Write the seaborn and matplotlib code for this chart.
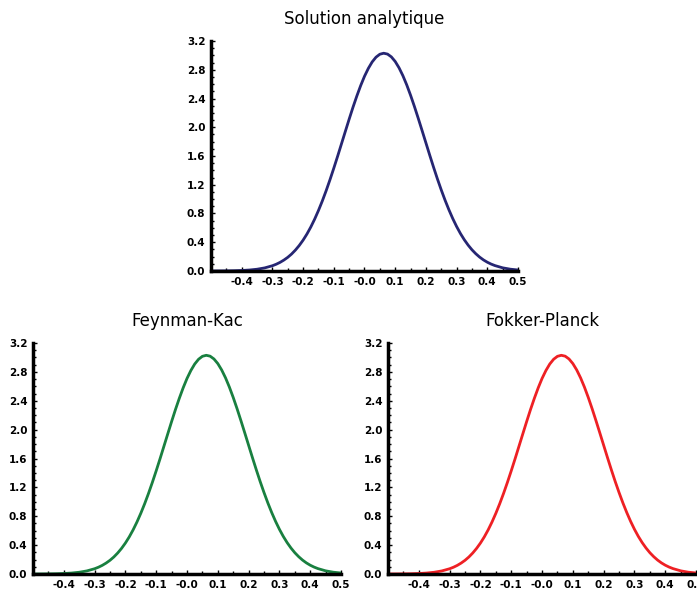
import matplotlib
matplotlib.use("Agg")
import matplotlib.pyplot as plt
import pandas as pd
import seaborn as sns
from matplotlib.ticker import MultipleLocator, FixedLocator

sns.set_style("ticks")
plt.rcParams['font.family'] = ['DejaVu Sans']
plt.rcParams['text.color'] = 'black'
plt.rcParams['xtick.color'] = 'black'
plt.rcParams['ytick.color'] = 'black'

# density (same shape in the three panels)
x_vals = [-0.5, -0.475, -0.45, -0.425, -0.4, -0.375, -0.35, -0.325,
          -0.3, -0.2875, -0.275, -0.2625, -0.25, -0.2375, -0.225, -0.2125,
          -0.2, -0.1875, -0.175, -0.1625, -0.15, -0.1375, -0.125, -0.1125,
          -0.1, -0.0875, -0.075, -0.0625, -0.05, -0.0375, -0.025, -0.0125,
          0.0, 0.0125, 0.025, 0.0375, 0.05, 0.0625, 0.075, 0.0875,
          0.1, 0.1125, 0.125, 0.1375, 0.15, 0.1625, 0.175, 0.1875,
          0.2, 0.2125, 0.225, 0.2375, 0.25, 0.2625, 0.275, 0.2875,
          0.3, 0.3125, 0.325, 0.3375, 0.35, 0.3625, 0.375, 0.3875,
          0.4, 0.4125, 0.425, 0.45, 0.475, 0.5]
analytique = [0.0004, 0.0008, 0.0018, 0.0036, 0.0071, 0.0134, 0.0244, 0.043,
              0.073, 0.094, 0.120, 0.152, 0.190, 0.236, 0.291, 0.355,
              0.429, 0.514, 0.611, 0.720, 0.841, 0.973, 1.116, 1.269,
              1.430, 1.597, 1.769, 1.941, 2.112, 2.278, 2.434, 2.579,
              2.709, 2.819, 2.909, 2.975, 3.016, 3.030, 3.018, 2.979,
              2.915, 2.827, 2.718, 2.590, 2.446, 2.290, 2.125, 1.955,
              1.783, 1.611, 1.443, 1.281, 1.128, 0.984, 0.851, 0.729,
              0.619, 0.521, 0.435, 0.360, 0.295, 0.240, 0.193, 0.154,
              0.122, 0.096, 0.075, 0.044, 0.025, 0.014]
feynman_kac = list(analytique)
fokker_planck = list(analytique)

titles = ["Solution analytique", "Feynman-Kac", "Fokker-Planck"]
colors = ["#262673", "#198040", "#ee2024"]
series = [analytique, feynman_kac, fokker_planck]

x_ticks = [-0.4, -0.3, -0.2, -0.1, 0.0, 0.1, 0.2, 0.3, 0.4, 0.5]
x_tick_labels = ["-0.4", "-0.3", "-0.2", "-0.1", "-0.0", "0.1", "0.2", "0.3", "0.4", "0.5"]
y_ticks = [0.0, 0.4, 0.8, 1.2, 1.6, 2.0, 2.4, 2.8, 3.2]

fig = plt.figure(figsize=(6.97, 5.90), dpi=100)
positions = [
    [0.3027, 0.5407, 0.4405, 0.3898],
    [0.0473, 0.0271, 0.4420, 0.3915],
    [0.5567, 0.0271, 0.4420, 0.3915],
]

for pos, title, color, vals in zip(positions, titles, colors, series):
    ax = fig.add_axes(pos)
    df = pd.DataFrame({"x": x_vals, "y": vals})
    sns.lineplot(data=df, x="x", y="y", ax=ax, color=color, linewidth=2.0)
    ax.set_xlim(-0.5, 0.5)
    ax.set_ylim(0.0, 3.2)
    ax.set_xlabel("")
    ax.set_ylabel("")
    ax.set_title(title, fontsize=12, pad=12, color="black")
    ax.xaxis.set_major_locator(FixedLocator(x_ticks))
    ax.set_xticklabels(x_tick_labels)
    ax.xaxis.set_minor_locator(MultipleLocator(0.05))
    ax.set_yticks(y_ticks)
    ax.set_yticklabels([f"{v:.1f}" for v in y_ticks])
    ax.yaxis.set_minor_locator(MultipleLocator(0.1))
    ax.tick_params(axis="both", which="major", direction="in", length=3, width=1,
                   labelsize=7.5, pad=4)
    ax.tick_params(axis="both", which="minor", direction="in", length=2, width=1)
    for lab in ax.get_xticklabels() + ax.get_yticklabels():
        lab.set_fontweight("bold")
    for side in ["top", "right"]:
        ax.spines[side].set_visible(False)
    for side in ["left", "bottom"]:
        ax.spines[side].set_linewidth(2.5)
        ax.spines[side].set_color("black")

fig.savefig("out.png", dpi=100)
